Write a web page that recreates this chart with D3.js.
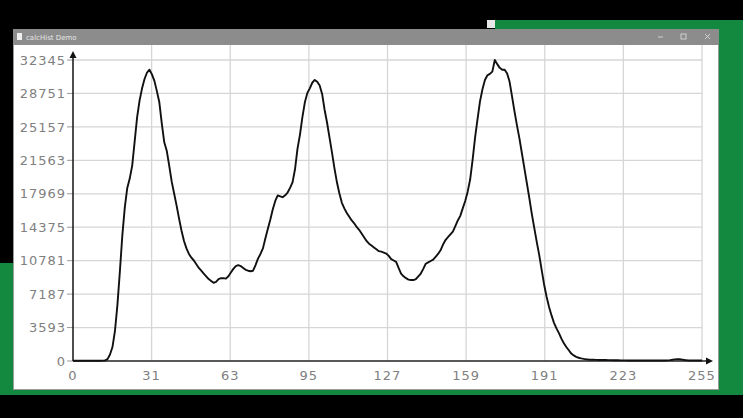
<!DOCTYPE html>
<html><head><meta charset="utf-8">
<script src="https://cdn.jsdelivr.net/npm/d3@7"></script>
<style>
html,body{margin:0;padding:0;background:#000;overflow:hidden}
svg{display:block}
</style></head><body>
<svg id="c" width="743" height="418"></svg>
<script>
// Histogram counts for bins 0..255
const binCounts = [
 30,30,30,30,30,30,30,30,30,30, 30,30,40,60,200,700,1500,3200,6000,9600,
 13500,16500,18600,19600,21000,23600,26200,28000,29300,30300, 31000,31300,30800,30100,29000,27800,25500,23500,22600,21000,
 19300,18000,16700,15300,14000,12900,12100,11500,11100,10800, 10400,10000,9700,9400,9100,8800,8600,8400,8500,8800,
 8900,8900,8850,9100,9500,9900,10200,10300,10200,10000, 9800,9700,9650,9700,10300,11000,11500,12100,13200,14200,
 15200,16300,17200,17800,17700,17600,17800,18100,18600,19200, 20600,22800,24300,26200,27800,28800,29300,29900,30200,30000,
 29600,28700,27000,25600,24000,22400,20700,19200,18000,17000, 16400,15900,15500,15100,14800,14400,14100,13700,13300,12900,
 12600,12400,12200,12000,11800,11750,11650,11550,11300,10950, 10800,10650,10000,9400,9100,8900,8750,8700,8700,8800,
 9100,9400,9900,10450,10600,10750,10900,11200,11500,11900, 12500,13000,13300,13600,13900,14500,15100,15600,16400,17200,
 18200,19500,21600,24000,26000,27900,29200,30200,30700,30850, 31100,32345,31900,31500,31300,31300,30900,30000,28400,26800,
 25300,23900,22300,20700,19100,17500,15800,14300,12800,11400, 9800,8200,6900,5800,4900,4100,3500,3000,2400,1900,
 1500,1150,800,600,450,350,280,230,190,160, 140,130,120,110,110,100,100,90,90,80,
 80,80,70,70,70,60,60,60,60,60, 60,60,60,60,60,60,60,60,60,60,
 60,70,90,130,180,200,190,150,110,80, 60,50,50,50,50,50
];
const xTickLabels = ["0","31","63","95","127","159","191","223","255"];
const yTickLabels = ["0","3593","7187","10781","14375","17969","21563","25157","28751","32345"];
const windowTitle = "calcHist Demo";

const svg = d3.select("#c");

// desktop background
svg.append("rect").attr("x",0).attr("y",0).attr("width",743).attr("height",418).attr("fill","#000");
svg.append("rect").attr("x",0).attr("y",20).attr("width",743).attr("height",375).attr("fill","#13893f");
svg.append("rect").attr("x",0).attr("y",20).attr("width",495).attr("height",10).attr("fill","#000");
svg.append("rect").attr("x",0).attr("y",20).attr("width",14).attr("height",243).attr("fill","#000");
svg.append("rect").attr("x",487).attr("y",20).attr("width",8).attr("height",8).attr("fill","#e8e8e8");

// window
svg.append("rect").attr("x",13).attr("y",29).attr("width",706).attr("height",361).attr("fill","#9a9a9a");
svg.append("rect").attr("x",13).attr("y",29).attr("width",706).attr("height",16).attr("fill","#8c8c8c");
svg.append("rect").attr("x",14).attr("y",45).attr("width",704).attr("height",344).attr("fill","#fff");
svg.append("rect").attr("x",17).attr("y",33).attr("width",5).attr("height",7).attr("fill","#eee");
svg.append("text").attr("x",26).attr("y",40).attr("font-family","DejaVu Sans").attr("font-size",7)
  .attr("fill","#e6e6e6").text(windowTitle);
const tb = svg.append("g").attr("fill","none").attr("stroke","#e0e0e0").attr("stroke-width",0.8);
tb.append("line").attr("x1",658).attr("x2",663).attr("y1",37).attr("y2",37);
tb.append("rect").attr("x",681).attr("y",34).attr("width",5).attr("height",5);
tb.append("line").attr("x1",705).attr("x2",710).attr("y1",34).attr("y2",39);
tb.append("line").attr("x1",710).attr("x2",705).attr("y1",34).attr("y2",39);

// scales
const x = d3.scaleLinear().domain([0,255]).range([73,702]);
const yMax = 32345;
const y = d3.scaleLinear().domain([0,yMax]).range([361,60]);
const xPos = i => x(i*255/(xTickLabels.length-1));
const yPos = i => y(i*yMax/(yTickLabels.length-1));

// grid
const grid = svg.append("g").attr("stroke","#d6d6d6").attr("stroke-width",1.3);
yTickLabels.forEach((t,i)=>{ if(i>0) grid.append("line").attr("x1",73).attr("x2",702).attr("y1",yPos(i)).attr("y2",yPos(i)); });
xTickLabels.forEach((t,i)=>{ if(i>0) grid.append("line").attr("x1",xPos(i)).attr("x2",xPos(i)).attr("y1",45).attr("y2",361); });

// tick labels
const lab = svg.append("g").attr("font-family","DejaVu Sans").attr("font-size",13).attr("fill","#808080").attr("letter-spacing",1);
yTickLabels.forEach((t,i)=>{
  lab.append("text").attr("x",66).attr("y",yPos(i)).attr("dy","0.36em").attr("text-anchor","end").text(t);
  svg.append("line").attr("x1",67).attr("x2",73).attr("y1",yPos(i)).attr("y2",yPos(i)).attr("stroke","#999").attr("stroke-width",1);
});
xTickLabels.forEach((t,i)=>{
  lab.append("text").attr("x",xPos(i)).attr("y",380).attr("text-anchor","middle").text(t);
});

// axes with arrows
const ax = svg.append("g").attr("stroke","#222").attr("stroke-width",1.6).attr("fill","none");
ax.append("line").attr("x1",73).attr("x2",73).attr("y1",361).attr("y2",54);
ax.append("line").attr("x1",73).attr("x2",710).attr("y1",361).attr("y2",361);
svg.append("path").attr("d","M73,51 L69.5,58 L76.5,58 Z").attr("fill","#111");
svg.append("path").attr("d","M713,361 L706,357.5 L706,364.5 Z").attr("fill","#111");

// curve
const line = d3.line().x((d,i)=>x(i)).y(d=>y(d));
svg.append("path").datum(binCounts).attr("d",line).attr("fill","none")
  .attr("stroke","#111").attr("stroke-width",1.9).attr("stroke-linejoin","round");
</script>
</body></html>
